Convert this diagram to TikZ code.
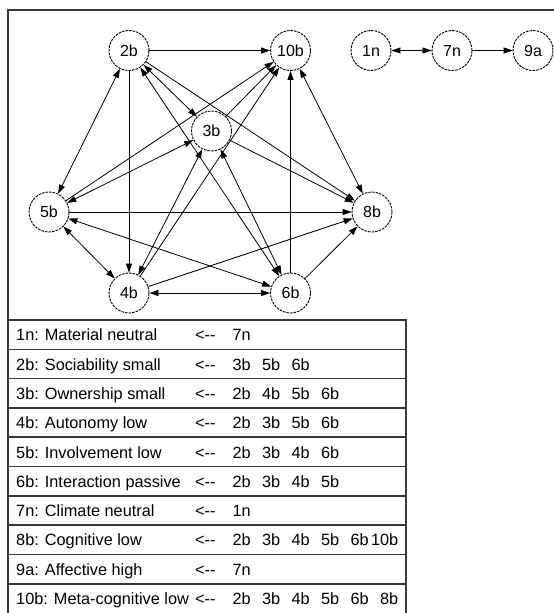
\documentclass[tikz,border=0pt]{standalone}
\usepackage{fontspec}
\setmainfont{Liberation Sans}
\usetikzlibrary{arrows.meta}
\begin{document}
\begin{tikzpicture}[x=1pt,y=-1pt,
  state/.style={circle,draw,dash pattern=on 2.6pt off 1pt,line width=0.9pt,
    minimum size=40pt,inner sep=0pt,font=\fontsize{16}{18}\selectfont},
  tip/.tip={Triangle[length=9pt,width=6pt]},
  link/.style={line width=0.8pt,-tip},
  both/.style={line width=0.8pt,tip-tip},
  frame/.style={line width=1.6pt,draw=black!78},
  cell/.style={font=\fontsize{16.3}{19}\selectfont,inner sep=0pt}]
\useasboundingbox (0,0) rectangle (554,613);
\clip (0,0) rectangle (554,613);

% outer frame
\draw[frame] (560,10) -- (8,10) -- (8,320);

% states
\node[state] (2b)  at (129,50.5)  {2b};
\node[state] (10b) at (290.5,50.5) {10b};
\node[state] (1n)  at (371,50.5)  {1n};
\node[state] (7n)  at (452,50.5)  {7n};
\node[state] (9a)  at (533,50.5)  {9a};
\node[state] (3b)  at (211.5,131) {3b};
\node[state] (5b)  at (49,212)    {5b};
\node[state] (8b)  at (372,212)   {8b};
\node[state] (4b)  at (129,293)   {4b};
\node[state] (6b)  at (290.5,293) {6b};

% mutual influences
\foreach \a/\b in {2b/3b,2b/5b,2b/6b,3b/4b,3b/5b,3b/6b,4b/5b,4b/6b,5b/6b,8b/10b,1n/7n}
  \draw[both] (\a) -- (\b);
% one-way influences
\foreach \a/\b in {2b/4b,2b/8b,2b/10b,3b/8b,3b/10b,4b/8b,4b/10b,5b/8b,5b/10b,6b/8b,6b/10b,7n/9a}
  \draw[link] (\a) -- (\b);

% legend table
\draw[frame] (8,320) rectangle (406,614);
\foreach \i in {1,...,9}
  \draw[frame] (8,{320+29.3*\i}) -- (406,{320+29.3*\i});
\foreach \lab/\src [count=\i from 0] in {
    {1n: Material neutral}/{7n},
    {2b: Sociability small}/{3b,5b,6b},
    {3b: Ownership small}/{2b,4b,5b,6b},
    {4b: Autonomy low}/{2b,3b,5b,6b},
    {5b: Involvement low}/{2b,3b,4b,6b},
    {6b: Interaction passive}/{2b,3b,4b,5b},
    {7n: Climate neutral}/{1n},
    {8b: Cognitive low}/{2b,3b,4b,5b,6b,10b},
    {9a: Affective high}/{7n},
    {10b: Meta-cognitive low}/{2b,3b,4b,5b,6b,8b}} {
  \pgfmathsetmacro\ty{320+29.3*\i+20.8}
  \node[cell,anchor=base west] (name\i) at (16,\ty) {\lab};
  \node[cell,anchor=base west] (arr\i) at (195,\ty) {<-{}-};
  \foreach \s [count=\k from 0] in \src
    \node[cell,anchor=base east] (src\i-\k) at ({251+29.5*\k},\ty) {\s};
}
\end{tikzpicture}
\end{document}
